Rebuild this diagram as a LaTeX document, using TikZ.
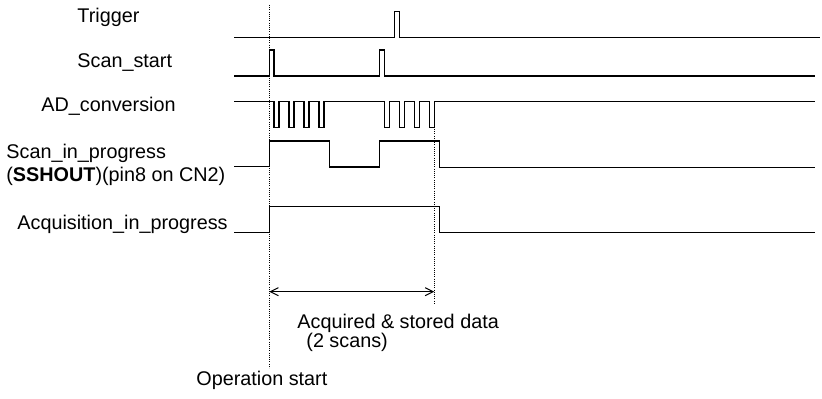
\documentclass[tikz,border=0pt]{standalone}
\usepackage{fontspec}
\setmainfont{Liberation Sans}
\usetikzlibrary{arrows.meta}
\begin{document}
\begin{tikzpicture}[x=0.5pt,y=-0.5pt,
  wave/.style={line width=0.65pt, line join=miter},
  guide/.style={line width=0.4pt, dash pattern=on 0.5pt off 0.6pt},
  lbl/.style={anchor=base west, inner sep=0pt, font=\fontsize{9.9pt}{11pt}\selectfont},
  dimline/.style={line width=0.5pt, {Straight Barb[length=4pt,width=4pt]}-{Straight Barb[length=4pt,width=4pt]}}
]
\useasboundingbox (0,0) rectangle (822,399);

% labels
\node[lbl] (ltrig) at (77,22.7) {Trigger};
\node[lbl] (lscan) at (77,68) {Scan\_start};
\node[lbl] (lad) at (41,112) {AD\_conversion};
\node[lbl] (lsip) at (6,159) {Scan\_in\_progress};
\node[lbl] (lssh) at (6,182) {(\textbf{SSHOUT})(pin8 on CN2)};
\node[lbl] (lacq) at (17,230) {Acquisition\_in\_progress};
\node[lbl] (lstore) at (297,328.3) {Acquired \& stored data};
\node[lbl] (lscans) at (306,348) {(2 scans)};
\node[lbl] (lop) at (196,386) {Operation start};

% guides
\coordinate (g1top) at (269.3,5);
\coordinate (g1bot) at (269.3,368);
\coordinate (g2top) at (434.3,129);
\coordinate (g2bot) at (434.3,303);
\draw[guide] (g1top) -- (g1bot);
\draw[guide] (g2top) -- (g2bot);

% Trigger
\draw[wave] (234,37.5) -- (394.3,37.5) -- (394.3,11.7) -- (399.3,11.7) -- (399.3,37.5) -- (820,37.5);

% Scan_start
\draw[wave] (234,76) -- (269.3,76) -- (269.3,50) -- (274,50) -- (274,76)
  -- (379.3,76) -- (379.3,50) -- (384.3,50) -- (384.3,76) -- (815,76);

% AD_conversion
\draw[wave] (234,101.7)
  foreach \s in {274,289,304,319} { -- (\s,101.7) -- (\s,127.7) -- (\s+5,127.7) -- (\s+5,101.7) }
  foreach \s in {384.3,399.3,414.3,429.3} { -- (\s,101.7) -- (\s,127.7) -- (\s+5,127.7) -- (\s+5,101.7) }
  -- (815,101.7);

% Scan_in_progress
\draw[wave] (234,166.7) -- (269.3,166.7) -- (269.3,141) -- (329.3,141) -- (329.3,167)
  -- (379.3,167) -- (379.3,141) -- (439.3,141) -- (439.3,167.7) -- (815,167.7);

% Acquisition_in_progress
\draw[wave] (234,232.7) -- (269.3,232.7) -- (269.3,206.7) -- (439.3,206.7) -- (439.3,232.7) -- (815,232.7);

% dimension arrow
\coordinate (da) at (269.3,291.7);
\coordinate (db) at (434.3,291.7);
\draw[dimline] (da) -- (db);
\end{tikzpicture}
\end{document}
